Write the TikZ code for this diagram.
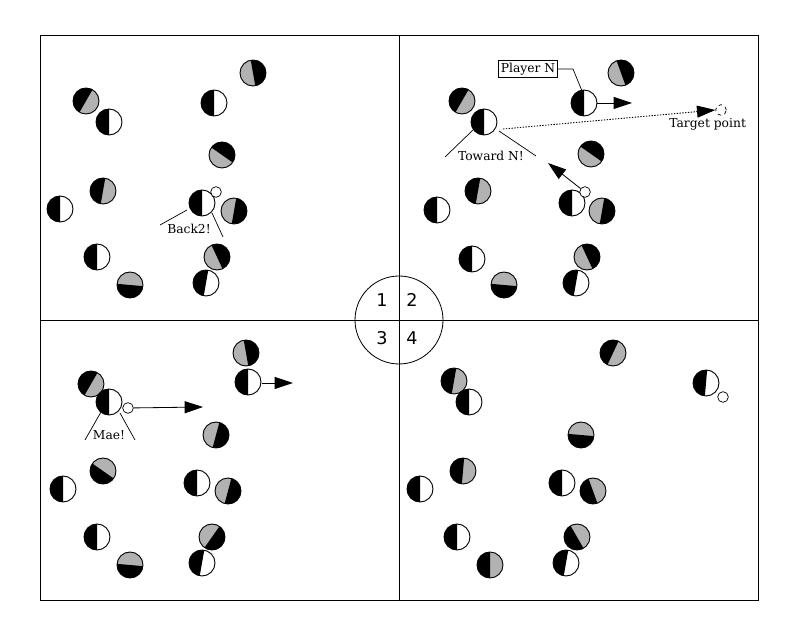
\documentclass[tikz,border=0pt]{standalone}
\usepackage{fontspec}
\setmainfont{DejaVu Serif}
\setsansfont{DejaVu Sans}
\usetikzlibrary{positioning}
\usetikzlibrary{arrows.meta}

% player: x, y (pixels from top), start angle of black half, other colour
\newcommand{\player}[4]{%
\begin{scope}[shift={(#1,622-#2)}]
\fill[#4] (0,0) circle (13);
\fill[black] (#3:13) arc[start angle=#3, delta angle=180, radius=13] -- cycle;
\draw[line width=0.8pt] (0,0) circle (13);
\end{scope}}

\tikzset{
  ball/.style={circle, draw, fill=white, inner sep=0pt, minimum size=3.2mm, line width=0.6pt},
  lbl/.style={font=\fontsize{10.5}{12}\selectfont, inner sep=1pt},
  num/.style={font=\sffamily\fontsize{15}{17}\selectfont},
  run/.style={line width=0.7pt, -{Triangle[length=5.5mm, width=3.6mm]}},
  talk/.style={line width=0.6pt}
}

\begin{document}
\begin{tikzpicture}[x=0.3mm, y=0.3mm]
\useasboundingbox (0,0) rectangle (795,622);

\draw[line width=0.7pt] (40,622-35) rectangle (758,622-600);
\draw[line width=0.7pt] (399,622-35) -- (399,622-600);
\draw[line width=0.7pt] (40,622-320) -- (758,622-320);
\draw[line width=0.7pt, fill=white] (399,622-320) circle (44);
\draw[line width=0.7pt] (399,622-276) -- (399,622-364);
\draw[line width=0.7pt] (355,622-320) -- (443,622-320);
\node[num] at (382,622-300) {1};
\node[num] at (412,622-300) {2};
\node[num] at (382,622-338) {3};
\node[num] at (412,622-338) {4};

% quadrant 1
\player{253}{73}{-80}{gray!60}
\player{86}{101}{60}{gray!60}
\player{109}{122}{90}{white}
\player{214}{103}{90}{white}
\player{222}{155}{-35}{gray!60}
\player{103}{191}{80}{gray!60}
\player{60}{209}{90}{white}
\player{202}{203}{90}{white}
\player{234}{211}{-100}{gray!60}
\player{217}{257}{-65}{gray!60}
\player{97}{257}{90}{white}
\player{130}{285}{175}{gray!60}
\player{206}{283}{80}{white}
\node[ball] (ball1) at (216,622-192) {};
\node[lbl] (back) at (189,622-229) {Back2!};
\draw[talk] (160,622-225) -- (187,622-210);
\draw[talk] (212,622-213) -- (223,622-237);

% quadrant 2
\player{584}{103}{90}{white}
\player{621}{73}{-70}{gray!60}
\player{462}{101}{60}{gray!60}
\player{484}{122}{90}{white}
\player{591}{154}{-35}{gray!60}
\player{478}{191}{80}{gray!60}
\player{437}{210}{90}{white}
\player{572}{203}{90}{white}
\player{602}{211}{-100}{gray!60}
\player{587}{257}{-65}{gray!60}
\player{472}{259}{90}{white}
\player{504}{285}{175}{gray!60}
\player{576}{283}{80}{white}
\node[draw, lbl, inner sep=2pt, line width=0.6pt] (playern) at (528,622-69) {Player N};
\draw[talk] (playern.east) -- (573,622-69) -- (582,622-91);
\coordinate (nrun) at (632,622-103);
\draw[run] (597,622-103) -- (nrun);
\node[ball, dashed] (target) at (721,622-110) {};
\node[lbl, below=1pt of target, xshift=-4mm] (targetlbl) {Target point};
\draw[line width=0.7pt, dash pattern=on 1.2pt off 1.2pt, -{Triangle[length=5.5mm, width=3.6mm]}] (503,622-129) -- (target.west);
\node[lbl] (toward) at (491,622-156) {Toward N!};
\draw[talk] (445,622-157) -- (473,622-130);
\draw[talk] (499,622-131) -- (536,622-156);
\node[ball] (ball2) at (585,622-192) {};
\coordinate (pass2) at (548,622-163);
\draw[run] (ball2) -- (pass2);

% quadrant 3
\player{246}{353}{-80}{gray!60}
\player{248}{382}{90}{white}
\player{91}{384}{60}{gray!60}
\player{109}{402}{90}{white}
\player{216}{435}{-105}{gray!60}
\player{103}{471}{145}{gray!60}
\player{63}{489}{90}{white}
\player{197}{483}{90}{white}
\player{228}{491}{-105}{gray!60}
\player{212}{537}{-125}{gray!60}
\player{97}{537}{90}{white}
\player{130}{565}{175}{gray!60}
\player{202}{563}{80}{white}
\coordinate (run3) at (293,622-383);
\draw[run] (262,622-383) -- (run3);
\node[ball] (ball3) at (128,622-408) {};
\coordinate (drib3) at (203,622-407);
\draw[run] (ball3) -- (drib3);
\node[lbl] (mae) at (109,622-435) {Mae!};
\draw[talk] (85,622-440) -- (101,622-412);
\draw[talk] (135,622-440) -- (120,622-413);

% quadrant 4
\player{613}{353}{65}{gray!60}
\player{706}{383}{85}{white}
\player{454}{381}{80}{gray!60}
\player{469}{402}{90}{white}
\player{581}{435}{175}{gray!60}
\player{463}{471}{85}{gray!60}
\player{420}{489}{90}{white}
\player{562}{483}{90}{white}
\player{593}{491}{110}{gray!60}
\player{577}{537}{120}{gray!60}
\player{457}{537}{90}{white}
\player{490}{565}{90}{gray!60}
\player{566}{563}{80}{white}
\node[ball] (ball4) at (723,622-397) {};
\end{tikzpicture}
\end{document}
